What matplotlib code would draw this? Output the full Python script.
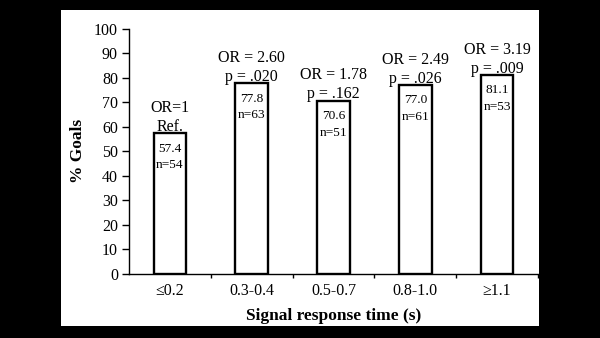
import matplotlib.pyplot as plt
import matplotlib.patches as mpatches
import numpy as np

cats = ["\u22640.2", "0.3-0.4", "0.5-0.7", "0.8-1.0", "\u22651.1"]
goals = [57.4, 77.8, 70.6, 77.0, 81.1]
n_obs = [54, 63, 51, 61, 53]
or_txt = ["OR=1", "OR = 2.60", "OR = 1.78", "OR = 2.49", "OR = 3.19"]
p_txt = ["Ref.", "p = .020", "p = .162", "p = .026", "p = .009"]

plt.rcParams['font.family'] = ['Liberation Serif', 'DejaVu Serif']

fig = plt.figure(figsize=(6, 3.38), dpi=100, facecolor='black')
# white page behind the chart
fig.patches.append(mpatches.Rectangle((61/600, 12/338), 478/600, 316/338,
                                      transform=fig.transFigure, facecolor='white',
                                      edgecolor='none', zorder=-10))

ax = fig.add_axes([129/600, 64.3/338, 409/600, 245/338])
ax.set_facecolor('white')

x = np.arange(len(cats))
ax.bar(x, goals, width=0.4, color='white', edgecolor='black', linewidth=1.7, zorder=3)

for i in range(len(cats)):
    ax.text(x[i], goals[i] + 10.3, or_txt[i], ha='center', va='center', fontsize=11.5)
    ax.text(x[i], goals[i] + 2.6, p_txt[i], ha='center', va='center', fontsize=11.5)
    ax.text(x[i], goals[i] - 6.3, "%.1f" % goals[i], ha='center', va='center', fontsize=9.6)
    ax.text(x[i], goals[i] - 13.0, "n=%d" % n_obs[i], ha='center', va='center', fontsize=9.6)

ax.set_xlim(-0.5, 4.5)
ax.set_ylim(0, 100)
ax.set_yticks(np.arange(0, 101, 10))
ax.set_xticks(x)
ax.set_xticklabels(cats)
ax.set_xticks(np.arange(0.5, 4.6, 1), minor=True)
ax.tick_params(axis='x', which='major', length=0, pad=7, labelsize=11.5)
ax.tick_params(axis='x', which='minor', length=3, direction='out', width=1)
ax.tick_params(axis='y', length=5, width=1, pad=3, labelsize=11.5)

for s in ['top', 'right']:
    ax.spines[s].set_visible(False)
for s in ['left', 'bottom']:
    ax.spines[s].set_linewidth(1)

ax.set_ylabel("% Goals", fontsize=12.5, fontweight='bold', labelpad=6)
ax.set_xlabel("Signal response time (s)", fontsize=12.5, fontweight='bold', labelpad=6)

fig.savefig("out.png", dpi=100, facecolor='black')
